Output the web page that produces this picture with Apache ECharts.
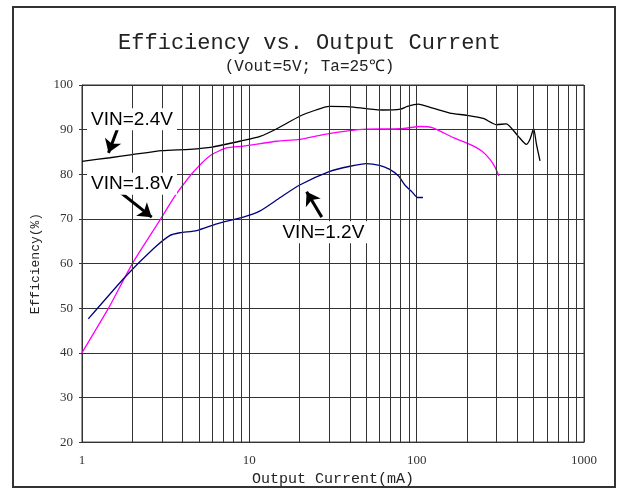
<!DOCTYPE html>
<html>
<head>
<meta charset="utf-8">
<script src="https://cdn.jsdelivr.net/npm/echarts@6/dist/echarts.min.js"></script>
<style>
  html, body { margin: 0; padding: 0; background: #fff; }
  #main { width: 619px; height: 492px; }
</style>
</head>
<body>
<div id="main"></div>
<script>
// output current (mA), efficiency (%)
const vin24 = [[1,82.9],[1.47,83.7],[2,84.4],[3,85.3],[4.4,85.6],[6,86.1],[9,87.5],[11.6,88.5],
  [14.6,90.2],[20,93],[25,94.4],[30,95.2],[40,95.1],[50,94.7],[63,94.4],[80,94.6],[88,95.2],
  [102,95.7],[125,94.8],[158,93.7],[200,93.2],[250,92.5],[300,91.1],[343,91.3],[405,88.5],
  [452,86.7],[475,87.8],[500,90.2],[520,86.7],[546,83.0]];
const vin18 = [[1,40],[1.44,50],[2,60],[3,70.4],[3.5,74.5],[3.85,76.7],[4.6,80.4],[5.8,84.1],
  [7.3,85.9],[9.2,86.3],[14.6,87.4],[20,87.8],[27.7,88.9],[40,89.8],[50,90.1],[80,90.2],
  [105,90.7],[125,90.4],[166,88.2],[208,86.7],[245,85.2],[275,83.3],[295,81.5],[310,79.6]];
const vin12 = [[1.09,47.6],[1.81,57],[2.67,63.3],[3.36,66.3],[3.85,66.9],[4.85,67.4],[6.4,68.9],
  [9.2,70.4],[11.6,71.8],[15.3,74.8],[20,77.6],[30,80.6],[40,81.8],[50,82.4],[60,82],[69,81.1],
  [78,79.6],[85,77.6],[94,76],[101,74.8],[109,74.8]];

const minorX = [2,3,4,5,6,7,8,9,20,30,40,50,60,70,80,90,200,300,400,500,600,700,800,900];

// label text, centre [mA, %]
const labels = [['VIN=2.4V', [1.99, 92.3]], ['VIN=1.8V', [1.99, 77.9]], ['VIN=1.2V', [27.7, 67.0]]];
// arrows: from -> to (head)
const arrows = [[[1.65, 90.7], [1.44, 84.8]], [[1.65, 76.3], [2.61, 70.4]], [[27.1, 70.4], [22.0, 76.1]]];

const gridColor = '#333';
const mono = '"Liberation Mono", monospace';

let chart = echarts.init(document.getElementById('main'));
let option = {
  animation: false,
  title: [{
    text: 'Efficiency vs. Output Current',
    left: 'center', top: 27,
    textStyle: { fontFamily: mono, fontSize: 22, fontWeight: 'normal', color: '#222' }
  }, {
    text: '(Vout=5V; Ta=25℃)',
    left: 'center', top: 54,
    textStyle: { fontFamily: mono, fontSize: 16, fontWeight: 'normal', color: '#222' }
  }],
  graphic: [{
    type: 'rect', shape: { x: 13, y: 7, width: 602, height: 480 },
    style: { fill: 'none', stroke: '#333', lineWidth: 2 }, silent: true
  }],
  grid: { left: 82, right: 35, top: 85, bottom: 47, show: true, borderColor: gridColor, borderWidth: 1 },
  xAxis: {
    type: 'log', logBase: 10, min: 1, max: 1000,
    name: 'Output Current(mA)', nameLocation: 'middle', nameGap: 24,
    nameTextStyle: { fontFamily: mono, fontSize: 15, color: '#222' },
    axisLine: { lineStyle: { color: gridColor } },
    axisTick: { show: false },
    axisLabel: { margin: 12, fontFamily: '"Liberation Serif", serif', fontSize: 13, color: '#333',
      formatter: v => String(Math.round(v)) },
    splitLine: { show: true, lineStyle: { color: gridColor, width: 1 } }
  },
  yAxis: {
    type: 'value', min: 20, max: 100, interval: 10,
    name: 'Efficiency(%)', nameLocation: 'middle', nameGap: 40,
    nameTextStyle: { fontFamily: mono, fontSize: 13, color: '#222' },
    axisLine: { show: true, lineStyle: { color: gridColor } },
    axisTick: { show: true, length: 3, lineStyle: { color: gridColor } },
    axisLabel: { margin: 9, fontFamily: '"Liberation Serif", serif', fontSize: 13, color: '#333' },
    splitLine: { show: true, lineStyle: { color: gridColor, width: 1 } }
  },
  series: [{
    type: 'line', data: [], z: 1, silent: true,
    markLine: {
      silent: true, symbol: ['none', 'none'],
      label: { show: false },
      lineStyle: { color: gridColor, width: 1, type: 'solid' },
      data: minorX.map(v => ({ xAxis: v }))
    }
  }, {
    type: 'line', data: [], z: 2, silent: true,
    markPoint: {
      silent: true, symbol: 'rect', symbolSize: [90, 22],
      itemStyle: { color: '#fff' },
      label: {
        show: true, position: 'inside', color: '#000',
        fontFamily: '"Liberation Sans", Arial, sans-serif', fontSize: 19,
        formatter: p => p.name
      },
      data: labels.map(l => ({ name: l[0], coord: l[1] }))
    },
    markLine: {
      silent: true, symbol: ['none', 'arrow'], symbolSize: 13,
      label: { show: false },
      lineStyle: { color: '#000', width: 3, type: 'solid' },
      data: arrows.map(a => [{ coord: a[0] }, { coord: a[1] }])
    }
  }, {
    name: 'VIN=2.4V', type: 'line', data: vin24, z: 3, smooth: 0.2, showSymbol: false,
    lineStyle: { color: '#000', width: 1.3 }
  }, {
    name: 'VIN=1.8V', type: 'line', data: vin18, z: 3, smooth: 0.2, showSymbol: false,
    lineStyle: { color: '#ff00ff', width: 1.3 }
  }, {
    name: 'VIN=1.2V', type: 'line', data: vin12, z: 3, smooth: 0.2, showSymbol: false,
    lineStyle: { color: '#000080', width: 1.3 }
  }]
};
chart.setOption(option);
</script>
</body>
</html>
